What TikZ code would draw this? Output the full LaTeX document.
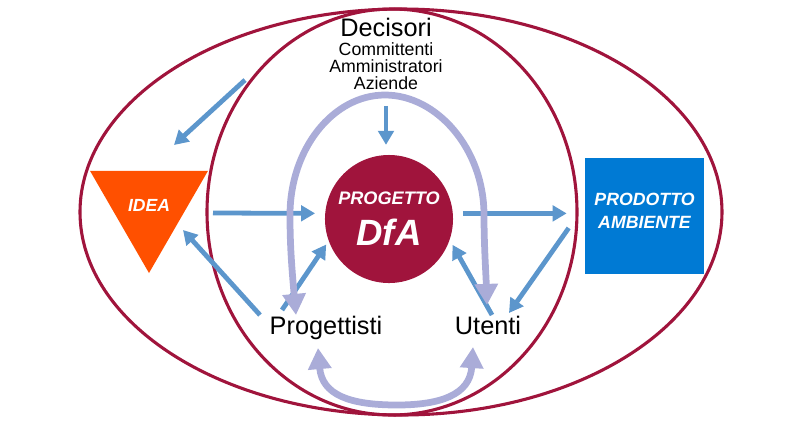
\documentclass[tikz,border=0pt]{standalone}
\usepackage{fontspec}
\setmainfont{Liberation Sans}
\usetikzlibrary{arrows.meta,calc,shapes.geometric}

\definecolor{dfared}{RGB}{160,20,60}
\definecolor{bandviolet}{RGB}{170,172,216}
\definecolor{flowblue}{RGB}{92,150,204}
\definecolor{boxblue}{RGB}{0,122,212}
\definecolor{ideaorange}{RGB}{255,80,0}

\tikzset{
  ringline/.style={draw=dfared, line width=2.2pt},
  flowarrow/.style={draw=flowblue, line width=3.4pt, -{Triangle[length=10pt,width=11pt]}},
  cycleband/.style={draw=bandviolet, line width=4.8pt,
    {Triangle[length=15pt,width=16pt]}-{Triangle[length=15pt,width=16pt]}},
  actor/.style={font=\fontsize{18}{20}\selectfont},
  whitebold/.style={text=white, font=\bfseries\itshape, align=center}
}

\begin{document}
\begin{tikzpicture}[x=0.025cm, y=-0.025cm]
    \useasboundingbox (0,0) rectangle (792,430);

    % Draw the two rings
    \draw[ringline] (401,212) ellipse [x radius=321, y radius=203];
    \draw[ringline] (392,212) ellipse [x radius=185, y radius=203];

    % Main blocks
    \node[regular polygon, regular polygon sides=3, shape border rotate=180,
          fill=ideaorange, minimum size=3.4cm, inner sep=0pt,
          whitebold, font=\fontsize{12.5}{14}\selectfont\bfseries\itshape] (idea) at (149,205) {IDEA};
    \node[circle, fill=dfared, minimum size=3.2cm, inner sep=0pt, whitebold] (progetto) at (389,219)
        {\fontsize{12.9}{15}\selectfont PROGETTO\\[9pt]\fontsize{26}{28}\selectfont DfA};
    \node[rectangle, fill=boxblue, minimum width=2.975cm, minimum height=2.9cm] (prodotto) at (644.5,216) {};
    \node[whitebold, font=\fontsize{12.6}{16.3}\selectfont\bfseries\itshape] (prodottotxt)
        at ($(prodotto.center)+(0,-5)$) {PRODOTTO\\AMBIENTE};

    % Actors
    \node[actor] (decisori) at (386,27) {Decisori};
    \node[align=center, font=\fontsize{12.6}{12.2}\selectfont] (ruoli) at (386,66)
        {Committenti\\Amministratori\\Aziende};
    \node[actor] (progettisti) at (326,328) {Progettisti};
    \node[actor] (utenti) at (488,325) {Utenti};

    % Blue arrows
    \coordinate (spunto) at (245,80);
    \draw[flowarrow] (spunto) -- ($(idea.center)+(25,-60)$);
    \draw[flowarrow, shorten <=8pt, shorten >=7pt] (ruoli.south) -- (ruoli.south |- progetto.north);
    \draw[flowarrow, shorten >=7pt] ($(idea.center)+(64,8)$) -- (progetto.175);
    \draw[flowarrow, shorten <=7pt, shorten >=12.8pt] (progetto.5) -- (progetto.5 -| prodotto.west);
    \draw[flowarrow] ($(prodotto.west)+(-16,12)$) -- ($(utenti.center)+(21,-12)$);
    \draw[flowarrow, shorten >=4pt] ($(utenti.center)+(4,-10)$) -- (progetto.-19);
    \draw[flowarrow] ($(progettisti.center)+(-66,-13)$) -- ($(idea.center)+(34,25)$);
    \draw[flowarrow, shorten >=3pt] ($(progettisti.center)+(-44,-18)$) -- (progetto.200);

    % Violet loops
    \draw[cycleband] ($(progettisti.center)+(-30,-13)$) .. controls (291,260) and (290,240) .. (290,215)
        .. controls (290,149) and (333,95) .. (385,95)
        .. controls (437,95) and (484,149) .. (484,215)
        .. controls (484,245) and (486,275) .. ($(utenti.center)+(-1,-20)$);
    \draw[cycleband] ($(progettisti.center)+(-8,20)$) .. controls (322,395) and (350,405) .. (397,405)
        .. controls (440,405) and (470,395) .. ($(utenti.center)+(-15,22)$);
\end{tikzpicture}
\end{document}
